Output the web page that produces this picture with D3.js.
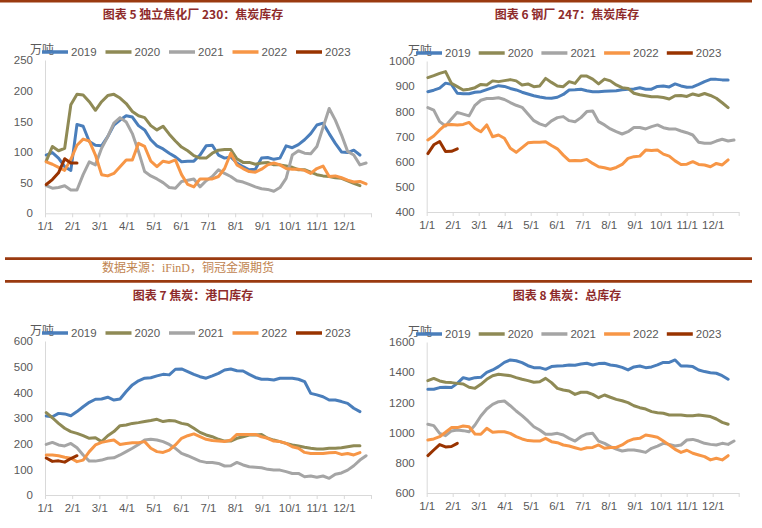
<!DOCTYPE html>
<html><head><meta charset="utf-8">
<script src="https://cdn.jsdelivr.net/npm/d3@7"></script>
<style>body{margin:0;background:#fff;} svg{display:block;}</style>
</head><body><svg id="c" width="762" height="528"></svg>
<script>
// ---------- data ----------
const years = ["2019", "2020", "2021", "2022", "2023"];
const monthLabels = ["1/1","2/1","3/1","4/1","5/1","6/1","7/1","8/1","9/1","10/1","11/1","12/1"];
const unitLabel = "万吨";
const sourceText = "数据来源：iFinD，铜冠金源期货";

// 图表5 独立焦化厂230：焦炭库存 (weekly)
const indep2019 = [95,99,90,76,70,145,142,117,111,110,125,144,152,159,157,143,136,120,110,105,98,92,84,85,85,95,110,111,95,90,92,82,76,71,72,90,91,88,90,110,107,112,120,130,144,147,130,114,100,99,103,95];
const indep2020 = [85,109,102,106,177,194,193,182,168,182,192,194,188,179,166,159,156,143,136,142,129,118,108,102,94,90,90,98,103,104,104,89,83,83,80,82,83,79,79,77,75,71,71,67,63,61,60,58,57,53,49,45];
const indep2021 = [45,41,42,45,38,38,63,84,79,106,125,147,156,149,130,101,68,61,56,50,42,41,52,54,56,43,53,60,71,65,60,53,51,47,43,40,39,36,42,57,95,102,98,97,109,140,171,152,128,101,95,79,82];
const indep2022 = [84,80,75,70,88,111,121,118,95,63,61,65,76,87,87,114,109,85,76,85,83,87,63,47,43,56,56,56,60,73,98,79,73,68,67,72,79,82,79,73,72,72,70,65,73,77,60,61,58,54,51,52,48];
const indep2023 = [47,55,66,89,82,82];

// 图表6 钢厂247：焦炭库存
const steel2019 = [878,884,892,912,907,872,870,870,876,878,886,894,902,899,891,885,876,869,862,857,853,852,856,867,885,886,888,882,878,878,880,881,882,886,888,889,894,888,888,899,901,897,909,901,896,897,907,918,927,927,925,925];
const steel2020 = [934,942,951,958,911,898,885,888,894,907,905,921,918,922,926,921,905,909,898,901,931,915,901,898,918,911,940,940,928,909,928,921,905,894,891,872,866,862,858,858,855,849,862,863,859,869,863,871,863,852,834,815];
const steel2021 = [815,805,759,742,770,796,789,782,824,844,851,851,854,847,835,824,816,789,763,750,742,762,775,779,763,759,775,799,801,759,746,730,719,710,719,736,736,730,739,746,735,730,730,722,715,706,677,673,673,682,689,682,686];
const steel2022 = [686,702,726,746,748,746,748,756,732,719,746,699,706,693,653,637,656,675,677,677,679,664,651,626,604,605,604,609,593,580,576,570,577,589,613,620,622,646,644,646,630,622,603,589,590,600,589,587,580,593,587,607];
const steel2023 = [632,667,680,640,641,651];

// 图表7 焦炭：港口库存
const port2019 = [308,305,318,316,309,325,344,361,373,374,381,370,374,403,429,445,455,457,464,470,468,490,491,481,470,461,455,464,474,487,491,484,483,470,458,451,451,448,455,455,455,451,442,396,390,383,370,370,364,357,338,325];
const port2020 = [321,301,279,260,247,240,231,221,223,208,231,247,270,273,279,282,286,290,295,286,290,288,279,275,260,244,234,227,217,210,210,221,227,234,234,236,221,214,208,201,195,191,186,182,179,179,182,182,184,188,192,192];
const port2021 = [197,205,195,191,201,184,156,132,132,136,143,145,156,169,182,197,214,217,214,208,197,182,162,153,143,132,127,127,123,113,114,127,117,110,108,106,100,97,97,91,84,84,71,74,69,74,65,81,86,97,114,136,153];
const port2022 = [156,156,153,147,143,130,136,169,195,205,210,214,197,201,204,204,208,182,169,166,175,195,221,231,238,227,217,212,210,208,214,236,236,236,236,227,221,210,208,201,188,182,166,162,162,162,165,166,158,162,156,165];
const port2023 = [144,131,133,128,142,153];

// 图表8 焦炭：总库存
const total2019 = [1287,1287,1298,1300,1298,1326,1364,1353,1364,1366,1399,1415,1437,1465,1481,1476,1463,1443,1430,1430,1419,1437,1441,1443,1448,1446,1454,1459,1448,1457,1459,1448,1443,1432,1415,1435,1441,1430,1435,1448,1465,1465,1481,1441,1441,1437,1415,1404,1397,1393,1377,1353];
const total2020 = [1344,1359,1342,1333,1331,1326,1322,1300,1293,1320,1353,1377,1386,1382,1377,1364,1353,1344,1333,1337,1359,1331,1293,1282,1276,1253,1267,1267,1253,1231,1249,1234,1220,1211,1198,1178,1165,1156,1139,1132,1128,1117,1117,1117,1112,1112,1117,1112,1106,1090,1068,1055];
const total2021 = [1055,1046,995,980,1011,1017,1013,1006,1050,1110,1156,1187,1205,1209,1178,1143,1112,1077,1039,1017,989,989,995,984,962,944,973,991,995,944,929,907,891,878,885,885,878,869,896,911,929,922,911,918,951,955,944,929,922,918,929,922,944];
const total2022 = [951,958,973,1002,1033,1033,1044,1039,991,989,1028,1002,1006,1006,995,973,958,947,944,944,962,940,933,918,911,900,889,900,902,918,896,902,902,918,944,958,962,984,977,969,944,918,889,869,883,863,852,841,819,830,819,847];
const total2023 = [848,885,921,905,908,929];

// ---------- styles ----------
const seriesColors = ["#4a7ebb", "#8f8a55", "#a5a5a5", "#f79646", "#993300"];
const borderColor = "#9a3a10";
const titleColor = "#8e2b2b";
const textColor = "#595959";
const axisColor = "#d9d9d9";
const latinFont = "'Liberation Sans', Arial, 'Noto Sans CJK SC', sans-serif";
const cjkFont = "'Noto Sans CJK SC', 'Liberation Sans', sans-serif";

const svg = d3.select("#c");

// frame lines
[[0, 1.2, 752], [5, 258.6, 752], [5, 281.4, 752]].forEach(([x0, y, x1]) => {
  svg.append("line").attr("x1", x0).attr("x2", x1).attr("y1", y).attr("y2", y)
    .attr("stroke", borderColor).attr("stroke-width", 2.6);
});

svg.append("text").attr("x", 188).attr("y", 272).attr("text-anchor", "middle")
  .attr("font-family", "'Liberation Serif', 'Noto Sans CJK SC', serif")
  .attr("font-size", 12).attr("fill", "#bf8450").text(sourceText);

function drawPanel(cfg) {
  const g = svg.append("g");
  const x = d3.scaleLinear().domain([0, 53]).range([cfg.left, cfg.right]);
  const y = d3.scaleLinear().domain(cfg.yDomain).range([cfg.bottom, cfg.top]);

  // title
  g.append("text").attr("x", cfg.titleX).attr("y", cfg.titleY)
    .attr("text-anchor", "middle").attr("font-family", cjkFont)
    .attr("font-weight", "bold").attr("font-size", 12).attr("fill", titleColor)
    .text(cfg.title);

  // y axis
  const yAxis = d3.axisLeft(y).tickValues(cfg.yTicks).tickSize(0).tickPadding(12)
    .tickFormat(d3.format("d"));
  const ya = g.append("g").attr("transform", `translate(${cfg.left},0)`).call(yAxis);
  ya.select(".domain").attr("stroke", axisColor);
  ya.selectAll("text").attr("font-family", latinFont).attr("font-size", 11.5).attr("fill", textColor);

  // x axis
  const monthPos = d3.range(13).map(m => m * 53 / 12);
  const xAxis = d3.axisBottom(x).tickValues(monthPos).tickSize(4).tickPadding(5)
    .tickSizeOuter(0)
    .tickFormat((d, i) => i < monthLabels.length ? monthLabels[i] : "");
  const xa = g.append("g").attr("transform", `translate(0,${cfg.bottom})`).call(xAxis);
  xa.select(".domain").attr("stroke", axisColor);
  xa.selectAll("line").attr("stroke", axisColor);
  xa.selectAll("text").attr("font-family", latinFont).attr("font-size", 11.5).attr("fill", textColor);

  // series lines
  const line = d3.line().x((d, i) => x(i + 0.2)).y(d => y(d));
  cfg.series.forEach((s, k) => {
    g.append("path").datum(s).attr("d", line).attr("fill", "none")
      .attr("stroke", seriesColors[k]).attr("stroke-width", 3)
      .attr("stroke-linejoin", "round").attr("stroke-linecap", "round");
  });

  // unit label
  g.append("text").attr("x", cfg.unitX).attr("y", cfg.legendY + 2)
    .attr("font-family", cjkFont).attr("font-size", 12).attr("fill", textColor)
    .text(unitLabel);

  // legend
  years.forEach((yr, k) => {
    const lx = cfg.legendX0 + k * cfg.legendStep;
    g.append("line").attr("x1", lx).attr("x2", lx + 26)
      .attr("y1", cfg.legendY).attr("y2", cfg.legendY)
      .attr("stroke", seriesColors[k]).attr("stroke-width", 3.5);
    g.append("text").attr("x", lx + 29).attr("y", cfg.legendY + 4)
      .attr("font-family", latinFont).attr("font-size", 11.5).attr("fill", textColor)
      .text(yr);
  });
}

drawPanel({
  title: "图表 5  独立焦化厂 230：焦炭库存", titleX: 193, titleY: 19,
  left: 45, right: 371, top: 60, bottom: 213.3, yDomain: [0, 250], yTicks: [0, 50, 100, 150, 200, 250],
  legendY: 52, legendX0: 42, legendStep: 63.5, unitX: 30,
  series: [indep2019, indep2020, indep2021, indep2022, indep2023]
});
drawPanel({
  title: "图表 6  钢厂 247：焦炭库存", titleX: 567, titleY: 19,
  left: 426.7, right: 738.7, top: 61, bottom: 212, yDomain: [400, 1000], yTicks: [400, 500, 600, 700, 800, 900, 1000],
  legendY: 53, legendX0: 416, legendStep: 62.7, unitX: 408,
  series: [steel2019, steel2020, steel2021, steel2022, steel2023]
});
drawPanel({
  title: "图表 7  焦炭：港口库存", titleX: 193, titleY: 300,
  left: 45, right: 371, top: 341, bottom: 495, yDomain: [0, 600], yTicks: [0, 100, 200, 300, 400, 500, 600],
  legendY: 333, legendX0: 42, legendStep: 63.5, unitX: 30,
  series: [port2019, port2020, port2021, port2022, port2023]
});
drawPanel({
  title: "图表 8  焦炭：总库存", titleX: 567, titleY: 300,
  left: 426.7, right: 738.7, top: 342, bottom: 493, yDomain: [600, 1600], yTicks: [600, 800, 1000, 1200, 1400, 1600],
  legendY: 334, legendX0: 416, legendStep: 62.7, unitX: 408,
  series: [total2019, total2020, total2021, total2022, total2023]
});
</script></body></html>
